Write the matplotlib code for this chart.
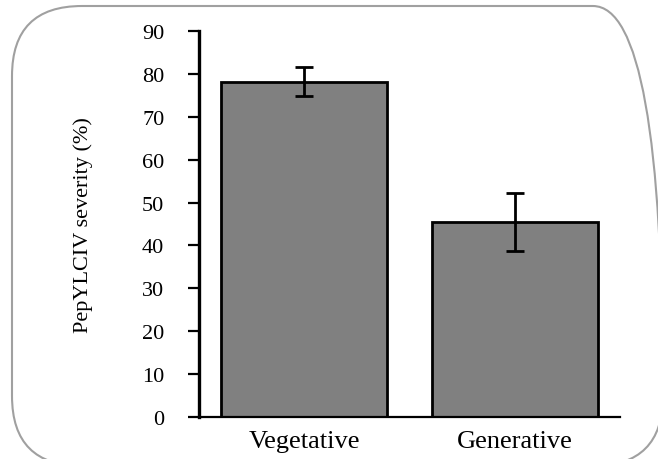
import matplotlib
matplotlib.use('Agg')
import matplotlib.pyplot as plt
from matplotlib.patches import FancyBboxPatch
from matplotlib.transforms import IdentityTransform

stages = ['Vegetative', 'Generative']
severity = [78.2, 45.5]
err = [3.4, 6.8]
yticks = [0, 10, 20, 30, 40, 50, 60, 70, 80, 90]

plt.rcParams['font.family'] = ['Liberation Serif', 'DejaVu Serif']

fig = plt.figure(figsize=(6.58, 4.6), dpi=100)
ax = fig.add_axes([0.3024, 0.0913, 0.6398, 0.8391])

ax.bar(range(len(stages)), severity, width=0.79, color='#808080',
       edgecolor='black', linewidth=2.0, zorder=2)
ax.errorbar(range(len(stages)), severity, yerr=err, fmt='none',
            ecolor='black', elinewidth=2.0, capsize=6.5, capthick=2.0, zorder=3)

ax.set_xlim(-0.5, 1.5)
ax.set_ylim(0, 90)
ax.set_yticks(yticks)
ax.set_xticks(range(len(stages)))
ax.set_xticklabels(stages, fontsize=19)
ax.tick_params(axis='x', length=0, pad=9)
ax.tick_params(axis='y', length=8, width=1.6, pad=17, labelsize=16)

for s in ['top', 'right']:
    ax.spines[s].set_visible(False)
ax.spines['left'].set_linewidth(2.4)
ax.spines['bottom'].set_linewidth(1.6)

ax.set_ylabel('PepYLCIV severity (%)', fontsize=16)
ax.yaxis.set_label_coords(-0.252, 0.5)

# rounded frame around the chart (pixel coords)
box = FancyBboxPatch((12, -7), 651, 460, boxstyle='round,pad=0,rounding_size=70',
                     transform=IdentityTransform(), facecolor='none',
                     edgecolor='#a0a0a0', linewidth=1.5)
fig.add_artist(box)

fig.savefig('out.png', dpi=100)
